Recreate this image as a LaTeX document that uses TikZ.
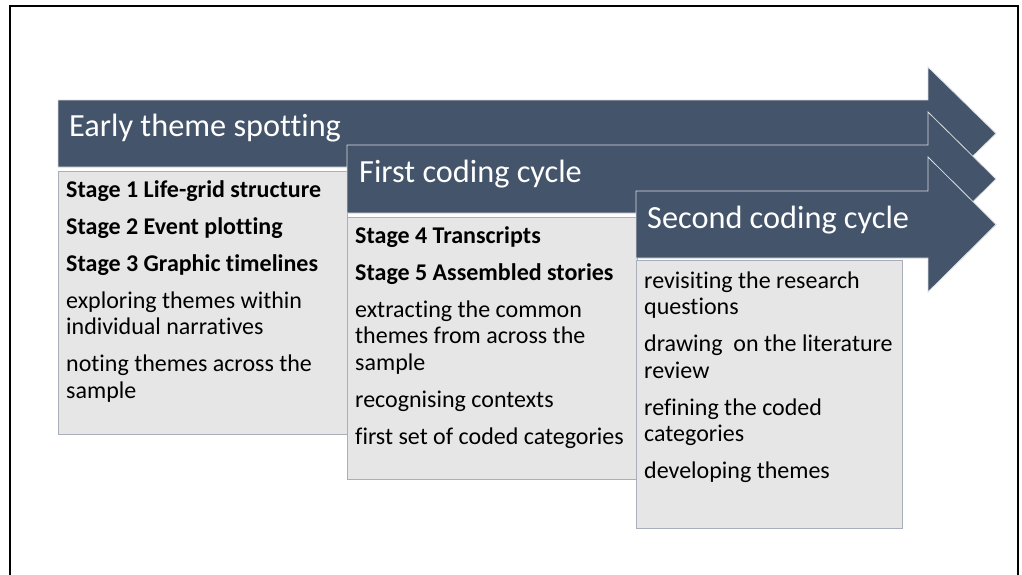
\documentclass[tikz,border=0pt]{standalone}
\usepackage{fontspec}
\setmainfont{Carlito}[Ligatures={NoCommon}]
\usetikzlibrary{positioning}

\definecolor{slate}{HTML}{44546A}
\definecolor{panelgray}{HTML}{E7E6E6}
\definecolor{panelline}{HTML}{A8AFBA}

\begin{document}
\begin{tikzpicture}[x=1pt, y=-1pt,
    phase/.style={fill=slate, draw=white!80!slate, line width=0.8pt},
    phasetitle/.style={text=white, font=\fontsize{32.3}{38}\selectfont, anchor=base west, inner sep=0pt},
    panel/.style={fill=panelgray, draw=panelline, line width=0.8pt},
    paneltext/.style={font=\fontsize{24}{26.5}\selectfont, anchor=base west, inner sep=0pt, text width=#1, align=flush left}]

    \useasboundingbox (0,0) rectangle (1022,574);

    % outer frame
    \draw[black, line width=1.6pt] (10,590) -- (10,6) -- (1018,6) -- (1018,590);

    % Early theme spotting
    \filldraw[phase] (58,100) -- (928,100) -- (928,67) -- (996,133.5) -- (928,200) -- (928,167) -- (58,167) -- cycle;
    \node[phasetitle] (early) at (69,136) {Early theme spotting};
    \filldraw[panel] (58,171) rectangle (347,434);
    \node[paneltext=300pt] (earlytext) at (66,197) {\textbf{Stage 1 Life-grid structure}\\[10.5pt]
        \textbf{Stage 2 Event plotting}\\[10.5pt]
        \textbf{Stage 3 Graphic timelines}\\[10.5pt]
        exploring themes within\\ individual narratives\\[10.5pt]
        noting themes across the\\ sample};

    % First coding cycle
    \filldraw[phase] (347,145) -- (928,145) -- (928,112) -- (996,179) -- (928,246) -- (928,213) -- (347,213) -- cycle;
    \node[phasetitle] (first) at (359,182) {First coding cycle};
    \filldraw[panel] (347,217) rectangle (637,479);
    \node[paneltext=300pt] (firsttext) at (355,243) {\textbf{Stage 4 Transcripts}\\[10.5pt]
        \textbf{Stage 5 Assembled stories}\\[10.5pt]
        extracting the common\\ themes from across the\\ sample\\[10.5pt]
        recognising contexts\\[10.5pt]
        first set of coded categories};

    % Second coding cycle
    \filldraw[phase] (636,191) -- (928,191) -- (928,157) -- (996,224.5) -- (928,292) -- (928,258) -- (636,258) -- cycle;
    \node[phasetitle] (second) at (647,228) {Second coding cycle};
    \filldraw[panel] (636,260) rectangle (902,528);
    \node[paneltext=300pt] (secondtext) at (644,288) {revisiting the research\\ questions\\[10.5pt]
        drawing~ on the literature\\ review\\[10.5pt]
        refining the coded\\ categories\\[10.5pt]
        developing themes};

\end{tikzpicture}
\end{document}
